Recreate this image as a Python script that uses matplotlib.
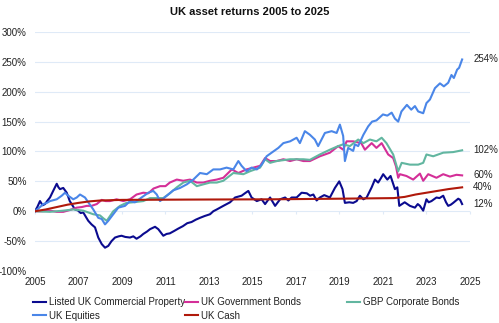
import matplotlib.pyplot as plt

plt.rcParams['font.family'] = ['Liberation Sans', 'DejaVu Sans']

# Listed UK Commercial Property
prop_t = [2005.0, 2005.12, 2005.23, 2005.35, 2005.46, 2005.58, 2005.69, 2005.85, 2006.0, 2006.08,
          2006.15, 2006.3, 2006.46, 2006.6, 2006.72, 2006.84, 2006.99, 2007.1, 2007.22, 2007.35,
          2007.45, 2007.6, 2007.76, 2007.91, 2008.07, 2008.22, 2008.37, 2008.52, 2008.68, 2008.85,
          2008.98, 2009.15, 2009.37, 2009.52, 2009.67, 2009.85, 2009.98, 2010.15, 2010.29, 2010.52,
          2010.67, 2010.9, 2011.05, 2011.2, 2011.4, 2011.59, 2011.8, 2012.0, 2012.2, 2012.4,
          2012.59, 2012.8, 2013.05, 2013.2, 2013.36, 2013.66, 2013.97, 2014.2, 2014.5, 2014.65,
          2014.81, 2014.96, 2015.2, 2015.42, 2015.58, 2015.7, 2015.81, 2016.04, 2016.27, 2016.5,
          2016.65, 2016.8, 2017.03, 2017.26, 2017.5, 2017.65, 2017.8, 2017.95, 2018.1, 2018.3,
          2018.56, 2018.79, 2018.99, 2019.14, 2019.25, 2019.45, 2019.63, 2019.79, 2019.94, 2020.1,
          2020.25, 2020.48, 2020.63, 2020.78, 2020.9, 2021.01, 2021.2, 2021.35, 2021.55, 2021.66,
          2021.75, 2022.0, 2022.12, 2022.24, 2022.47, 2022.6, 2022.7, 2022.85, 2023.0, 2023.1,
          2023.23, 2023.46, 2023.6, 2023.77, 2023.9, 2024.0, 2024.12, 2024.23, 2024.46, 2024.55,
          2024.64]
prop_v = [0, 8, 17, 10, 12, 18, 23, 35, 46, 40,
          37, 39, 31, 17, 10, 3, 1, -3, -2, -10,
          -16, -22, -27, -44, -55, -61, -58, -50, -44, -42,
          -41, -43, -44, -42, -46, -42, -38, -34, -30, -26,
          -30, -41, -38, -37, -33, -29, -25, -20, -18, -14,
          -11, -8, -5, 0, 3, 9, 15, 23, 26, 30,
          34, 23, 17, 20, 12, 18, 23, 9, 20, 23,
          18, 23, 23, 31, 30, 26, 28, 18, 23, 27,
          23, 39, 50, 37, 14, 15, 14, 17, 26, 20,
          23, 40, 53, 48, 55, 62, 53, 59, 37, 40,
          9, 15, 12, 9, 6, 12, 9, 1, 20, 15,
          17, 23, 22, 26, 15, 9, 11, 14, 21, 19,
          12]

# UK Government Bonds
gov_t = [2005.0, 2005.35, 2005.69, 2006.0, 2006.3, 2006.6, 2006.92, 2007.15, 2007.38, 2007.6,
         2007.84, 2008.07, 2008.25, 2008.45, 2008.75, 2009.06, 2009.37, 2009.67, 2009.98, 2010.21,
         2010.45, 2010.75, 2011.0, 2011.2, 2011.52, 2011.82, 2012.13, 2012.44, 2012.74, 2013.05,
         2013.36, 2013.66, 2014.05, 2014.35, 2014.73, 2015.04, 2015.35, 2015.58, 2015.81, 2016.11,
         2016.42, 2016.73, 2017.03, 2017.34, 2017.64, 2018.1, 2018.56, 2018.94, 2019.17, 2019.33,
         2019.63, 2020.0, 2020.17, 2020.48, 2020.7, 2020.94, 2021.24, 2021.47, 2021.6, 2021.7,
         2021.78, 2022.08, 2022.39, 2022.7, 2022.85, 2023.08, 2023.46, 2023.77, 2024.08, 2024.38,
         2024.64]
gov_v = [0, 0, 1, -1, -1, 2, 6, 7, 9, 9,
         12, 19, 17, 17, 20, 17, 20, 28, 31, 30,
         38, 42, 42, 48, 53, 51, 53, 48, 48, 51,
         53, 56, 70, 64, 70, 73, 76, 89, 84, 84,
         87, 84, 87, 84, 84, 92, 98, 109, 103, 117,
         117, 114, 103, 114, 106, 114, 95, 89, 75, 56,
         62, 59, 53, 63, 51, 62, 56, 62, 58, 61,
         60]

# GBP Corporate Bonds
corp_t = [2005.0, 2005.69, 2006.3, 2006.76, 2007.22, 2007.68, 2007.99, 2008.15, 2008.3, 2008.45,
          2008.6, 2008.91, 2009.21, 2009.52, 2009.98, 2010.29, 2010.6, 2010.9, 2011.2, 2011.52,
          2011.82, 2012.13, 2012.44, 2012.74, 2013.05, 2013.36, 2013.66, 2014.12, 2014.58, 2014.89,
          2015.35, 2015.58, 2015.81, 2016.11, 2016.73, 2017.34, 2017.64, 2018.1, 2018.56, 2018.94,
          2019.17, 2019.48, 2019.86, 2020.1, 2020.4, 2020.7, 2020.94, 2021.16, 2021.47, 2021.7,
          2021.86, 2022.24, 2022.62, 2022.85, 2023.0, 2023.31, 2023.77, 2024.23, 2024.64]
corp_v = [0, -1, 1, 3, 1, -5, -7, -12, -16, -8,
          0, 9, 14, 15, 17, 22, 22, 22, 30, 40,
          48, 51, 42, 45, 48, 48, 51, 64, 62, 67,
          73, 87, 81, 84, 87, 87, 86, 95, 103, 109,
          112, 109, 120, 114, 120, 117, 123, 114, 95, 67,
          81, 78, 78, 81, 95, 92, 98, 99, 102]

# UK Equities
eq_t = [2005.0, 2005.2, 2005.38, 2005.55, 2005.69, 2006.0, 2006.23, 2006.38, 2006.53, 2006.76,
        2006.92, 2007.07, 2007.3, 2007.45, 2007.68, 2007.91, 2008.07, 2008.22, 2008.37, 2008.6,
        2008.83, 2009.14, 2009.37, 2009.6, 2009.9, 2010.21, 2010.44, 2010.6, 2010.75, 2010.82,
        2011.06, 2011.36, 2011.67, 2011.98, 2012.28, 2012.59, 2012.9, 2013.2, 2013.51, 2013.81,
        2014.12, 2014.35, 2014.5, 2014.73, 2014.96, 2015.2, 2015.42, 2015.65, 2015.88, 2016.19,
        2016.42, 2016.73, 2017.03, 2017.18, 2017.41, 2017.64, 2017.87, 2018.02, 2018.33, 2018.64,
        2018.87, 2019.02, 2019.17, 2019.25, 2019.4, 2019.63, 2019.71, 2019.86, 2020.1, 2020.32,
        2020.5, 2020.7, 2021.0, 2021.2, 2021.4, 2021.55, 2021.7, 2021.85, 2022.1, 2022.3,
        2022.47, 2022.62, 2022.85, 2023.0, 2023.16, 2023.39, 2023.62, 2023.8, 2024.0, 2024.15,
        2024.26, 2024.41, 2024.5, 2024.64]
eq_v = [0, 6, 12, 14, 17, 20, 26, 31, 26, 20,
        23, 28, 23, 15, 3, -11, -13, -22, -16, -5,
        6, 9, 17, 15, 23, 31, 34, 28, 17, 19,
        26, 35, 39, 45, 53, 64, 62, 70, 70, 73,
        70, 84, 76, 67, 73, 70, 78, 92, 98, 106,
        114, 117, 123, 114, 134, 128, 120, 109, 131, 134,
        131, 145, 126, 84, 106, 101, 112, 109, 128, 142,
        150, 152, 162, 160, 165, 155, 150, 167, 178, 170,
        176, 167, 164, 181, 187, 206, 214, 209, 215, 228,
        223, 237, 240, 254]

# UK Cash
cash_t = [2005.0, 2005.5, 2006.0, 2006.5, 2007.0, 2007.5, 2008.0, 2009.0, 2012.0, 2016.0,
          2019.0, 2021.5, 2022.0, 2022.5, 2023.0, 2023.5, 2024.0, 2024.64]
cash_v = [0, 3, 7, 11, 14, 16.5, 18, 19, 19.5, 20,
          21, 22, 24, 28, 31, 34, 37, 40]

x_ticks = [2005, 2007, 2009, 2011, 2013, 2015, 2017, 2019, 2021, 2023, 2025]
y_ticks = [-100, -50, 0, 50, 100, 150, 200, 250, 300]

fig = plt.figure(figsize=(4.99, 3.23), dpi=100)
ax = fig.add_axes([0.0701, 0.161, 0.8717, 0.740])

c_prop = '#0b0b8f'
c_gov = '#d42f98'
c_corp = '#62b6a0'
c_eq = '#4a86e8'
c_cash = '#b0190b'

lw = 1.5
l_prop, = ax.plot(prop_t, prop_v, color=c_prop, lw=lw)
l_gov, = ax.plot(gov_t, gov_v, color=c_gov, lw=lw)
l_corp, = ax.plot(corp_t, corp_v, color=c_corp, lw=lw)
l_eq, = ax.plot(eq_t, eq_v, color=c_eq, lw=lw)
l_cash, = ax.plot(cash_t, cash_v, color=c_cash, lw=lw)

ax.set_xlim(2005, 2025)
ax.set_ylim(-100, 300)
ax.set_xticks(x_ticks)
ax.set_yticks(y_ticks)
ax.set_yticklabels([f'{v}%' for v in y_ticks])
ax.tick_params(axis='both', length=0, labelsize=7, labelcolor='#222222')
ax.tick_params(axis='x', pad=4)
ax.tick_params(axis='y', pad=6)
ax.grid(axis='y', color='#dfeaf7', lw=0.8)
ax.set_axisbelow(True)
for s in ax.spines.values():
    s.set_visible(False)

# small ticks on the zero line
sec = ax.secondary_xaxis(0.25)
sec.set_xticks(x_ticks)
sec.set_xticklabels([])
sec.tick_params(length=2.5, color='#dfeaf7', width=0.8)
sec.spines['bottom'].set_visible(False)

# end labels
for t, v in [(eq_t, eq_v), (corp_t, corp_v), (gov_t, gov_v), (cash_t, cash_v), (prop_t, prop_v)]:
    ax.annotate(f'{v[-1]}%', xy=(t[-1], v[-1]), xytext=(8, 0), textcoords='offset points',
                fontsize=7, color='#222222', va='center', ha='left', annotation_clip=False)

fig.text(0.5, 0.963, 'UK asset returns 2005 to 2025', ha='center', va='center',
         fontsize=8, fontweight='bold', color='#111111')

leg_kw = dict(loc='upper left', frameon=False, fontsize=7, handlelength=1.35,
              handletextpad=0.25, borderpad=0, borderaxespad=0, labelspacing=0.35,
              labelcolor='#222222')
fig.legend([l_prop, l_eq], ['Listed UK Commercial Property', 'UK Equities'],
           bbox_to_anchor=(33 / 499, 0.079), **leg_kw)
fig.legend([l_gov, l_cash], ['UK Government Bonds', 'UK Cash'],
           bbox_to_anchor=(185 / 499, 0.079), **leg_kw)
fig.legend([l_corp], ['GBP Corporate Bonds'],
           bbox_to_anchor=(347 / 499, 0.079), **leg_kw)

fig.savefig('out.png', dpi=100)
